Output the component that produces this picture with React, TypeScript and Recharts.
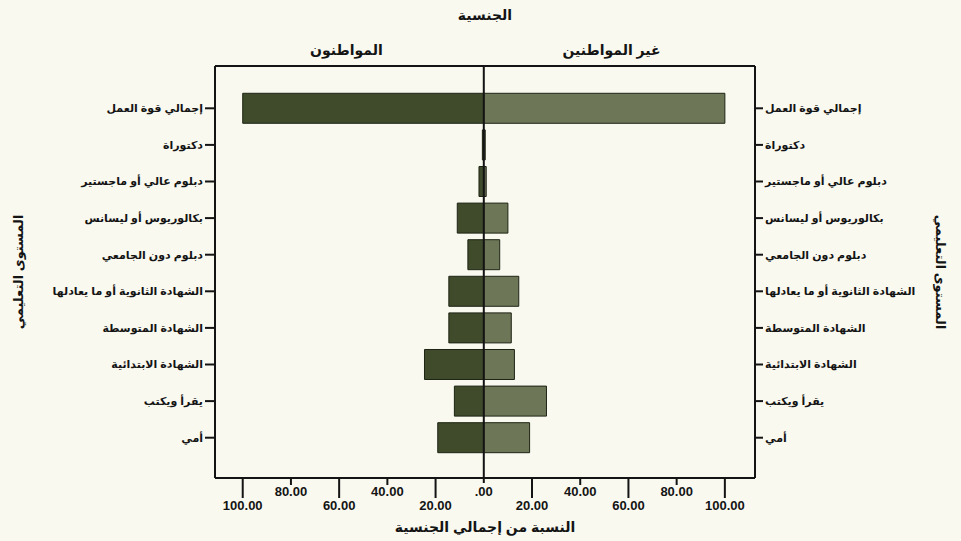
import { BarChart, Bar, XAxis, YAxis, ReferenceLine } from 'recharts'

// education levels, top to bottom as in the source figure
const levels = [
  'إجمالي قوة العمل',
  'دكتوراة',
  'دبلوم عالي أو ماجستير',
  'بكالوريوس أو ليسانس',
  'دبلوم دون الجامعي',
  'الشهادة الثانوية أو ما يعادلها',
  'الشهادة المتوسطة',
  'الشهادة الابتدائية',
  'يقرأ ويكتب',
  'أمي',
]

// percent of nationality total
const citizens = [100, 0.6, 2, 11, 6.6, 14.5, 14.5, 24.6, 12.2, 19.1]
const nonCitizens = [100, 0.6, 1, 10, 6.6, 14.5, 11.4, 12.7, 26, 19]

const xTicks = [-100, -80, -60, -40, -20, 0, 20, 40, 60, 80, 100]
const sideNames = ['المواطنون', 'غير المواطنين']

const data = levels.map((name, i) => ({
  name,
  citizens: -citizens[i],
  nonCitizens: nonCitizens[i],
}))

const FONT = "'Liberation Sans', 'DejaVu Sans', sans-serif"
const INK = '#141414'

const fmt = (v: number) => {
  const s = Math.abs(v).toFixed(2)
  return v === 0 ? '.00' : s
}

// bottom axis: SPSS style alternating long / short ticks
const PercentTick = (props: any) => {
  const { x, y, payload } = props
  const v = payload.value
  const long = Math.abs(v) % 40 === 20
  const len = long ? 20 : v === 0 ? 5 : 7
  return (
    <g>
      <line x1={x} x2={x} y1={y} y2={y + len} stroke={INK} strokeWidth={2} />
      <text
        x={x}
        y={y + (long ? 29 : 15)}
        textAnchor="middle"
        dominantBaseline="middle"
        fontFamily={FONT}
        fontWeight="bold"
        fontSize={13}
        fill={INK}
      >
        {fmt(v)}
      </text>
    </g>
  )
}

const titleStyle = {
  fill: INK,
  fontSize: 13,
  fontWeight: 'bold',
  fontFamily: FONT,
}

export default function App() {
  return (
    <div style={{ position: 'absolute', left: 0, top: 0, width: 961, height: 541, background: '#f9f9f0' }}>
      <BarChart
        width={961}
        height={541}
        data={data}
        layout="vertical"
        stackOffset="sign"
        barCategoryGap="9%"
        margin={{ top: 0, right: 0, bottom: 0, left: 0 }}
      >
        <XAxis
          type="number"
          domain={[-111.5, 112.5]}
          ticks={xTicks}
          interval={0}
          height={63}
          tick={<PercentTick />}
          tickSize={0}
          tickMargin={0}
          tickLine={false}
          axisLine={{ stroke: INK, strokeWidth: 2 }}
          label={{ value: 'النسبة من إجمالي الجنسية', position: 'insideBottom', offset: 9, ...titleStyle, fontSize: 14 }}
        />
        <XAxis
          xAxisId="top"
          orientation="top"
          type="number"
          domain={[-111.5, 112.5]}
          height={66}
          tick={false}
          tickLine={false}
          axisLine={{ stroke: INK, strokeWidth: 2 }}
          label={{ value: 'الجنسية', position: 'insideTop', offset: 10, ...titleStyle, fontSize: 14 }}
        />
        <YAxis
          yAxisId="left"
          type="category"
          dataKey="name"
          orientation="left"
          width={215}
          padding={{ top: 24, bottom: 22 }}
          interval={0}
          tickSize={10}
          tickMargin={2}
          tickLine={{ stroke: INK, strokeWidth: 2 }}
          axisLine={{ stroke: INK, strokeWidth: 2 }}
          tick={{ fill: INK, fontSize: 11, fontWeight: 'bold', fontFamily: FONT }}
          label={{
            value: 'المستوى التعليمي',
            angle: -90,
            position: 'insideLeft',
            offset: 18,
            ...titleStyle,
            style: { textAnchor: 'middle' },
          }}
        />
        <YAxis
          yAxisId="right"
          type="category"
          dataKey="name"
          orientation="right"
          width={206}
          padding={{ top: 24, bottom: 22 }}
          interval={0}
          tickSize={8}
          tickMargin={2}
          tickLine={{ stroke: INK, strokeWidth: 2 }}
          axisLine={{ stroke: INK, strokeWidth: 2 }}
          tick={{ fill: INK, fontSize: 11, fontWeight: 'bold', fontFamily: FONT }}
          label={{
            value: 'المستوى التعليمي',
            angle: 90,
            position: 'insideRight',
            offset: 20,
            ...titleStyle,
            style: { textAnchor: 'middle' },
          }}
        />
        <Bar
          dataKey="citizens"
          yAxisId="left"
          stackId="pyr"
          fill="#3f4b2b"
          stroke="#1e2414"
          strokeWidth={1}
          isAnimationActive={false}
        />
        <Bar
          dataKey="nonCitizens"
          yAxisId="left"
          stackId="pyr"
          fill="#6e7658"
          stroke="#1e2414"
          strokeWidth={1}
          isAnimationActive={false}
        />
        <ReferenceLine x={0} yAxisId="left" stroke={INK} strokeWidth={2} />
        {/* headings over each half of the pyramid */}
        <ReferenceLine
          x={-57}
          yAxisId="left"
          stroke="none"
          label={{ value: sideNames[0], position: 'top', offset: 11, ...titleStyle, fontSize: 14 }}
        />
        <ReferenceLine
          x={53}
          yAxisId="left"
          stroke="none"
          label={{ value: sideNames[1], position: 'top', offset: 11, ...titleStyle, fontSize: 14 }}
        />
      </BarChart>
    </div>
  )
}
